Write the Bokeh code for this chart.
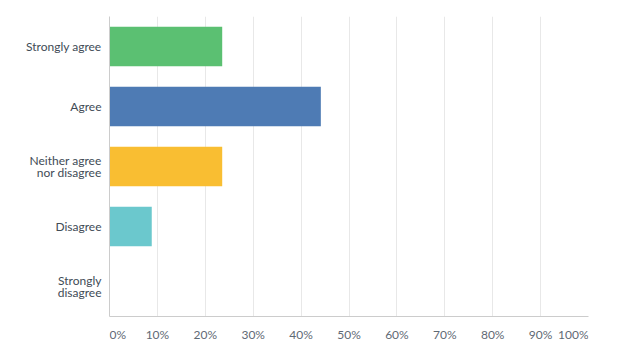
from bokeh.plotting import figure
from bokeh.models import Range1d, FactorRange, FixedTicker
from bokeh.layouts import column
from bokeh.embed import file_html
from bokeh.resources import INLINE

categories = ["Strongly agree", "Agree", "Neither agree\nnor disagree", "Disagree", "Strongly\ndisagree"]
values = [23.53, 44.12, 23.53, 8.82, 0.0]
colors = ["#5BC072", "#4E7BB4", "#F9BE32", "#6BC8CD", "#A9A9A9"]
ticks = [0, 10, 20, 30, 40, 50, 60, 70, 80, 90, 100]
tick_labels = [f"{t}%" for t in ticks]

FONT = "Lato"

p = figure(
    frame_width=479, frame_height=300,
    y_range=FactorRange(factors=list(reversed(categories))),
    x_range=Range1d(0, 100),
    output_backend="svg", toolbar_location=None,
    min_border_left=109, min_border_right=41, min_border_top=16, min_border_bottom=0,
)
p.outline_line_color = None
p.background_fill_color = "white"

p.hbar(y=categories, right=values, left=0, height=0.66, color=colors, line_color=None)

p.xaxis.ticker = FixedTicker(ticks=ticks)
p.xaxis.major_tick_line_color = None
p.xaxis.minor_tick_line_color = None
p.xaxis.major_label_overrides = {t: "" for t in ticks}
p.xaxis.major_label_standoff = 0
p.xaxis.axis_line_color = "#CCCCCC"
p.xaxis.axis_line_width = 1

p.xgrid.ticker = FixedTicker(ticks=ticks)
p.xgrid.grid_line_color = "#E8E8E8"
p.ygrid.grid_line_color = None

p.yaxis.major_tick_line_color = None
p.yaxis.minor_tick_line_color = None
p.yaxis.axis_line_color = "#CCCCCC"
p.yaxis.major_label_standoff = 2
p.yaxis.major_label_text_font = FONT
p.yaxis.major_label_text_font_size = "12px"
p.yaxis.major_label_text_line_height = 0.8
p.yaxis.major_label_text_color = "#414B56"

# tick labels row (first left-aligned, last right-aligned, others centred)
n = len(ticks)
aligns = ["left" if i == 0 else ("right" if i == n - 1 else "center") for i in range(n)]
q = figure(
    frame_width=479, frame_height=30,
    x_range=p.x_range, y_range=Range1d(0, 30),
    output_backend="svg", toolbar_location=None,
    min_border_left=109, min_border_right=41, min_border_top=0, min_border_bottom=0,
)
q.axis.visible = False
q.grid.visible = False
q.outline_line_color = None
q.text(x=ticks, y=[18] * n, text=tick_labels, text_align=aligns, text_baseline="middle",
       text_font={"value": FONT}, text_font_size="12px", text_color="#5F6A75")

layout = column(p, q)
open("out.html", "w").write(file_html(layout, INLINE))
